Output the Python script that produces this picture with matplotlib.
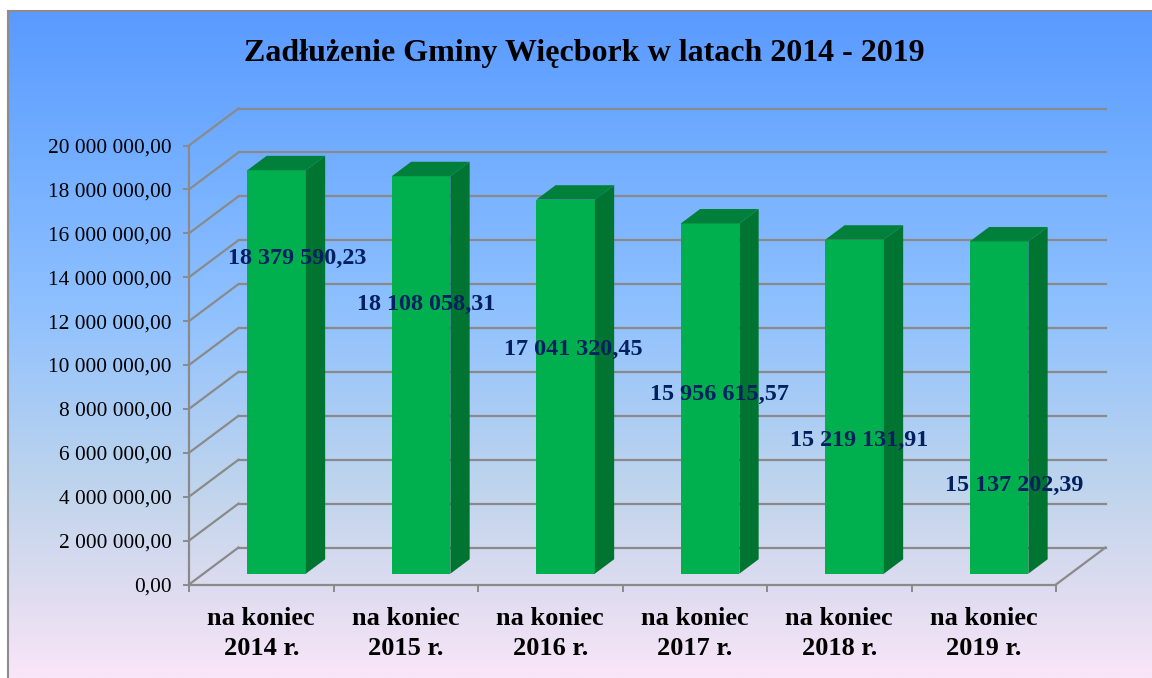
import numpy as np
import matplotlib
matplotlib.use("Agg")
import matplotlib.pyplot as plt
from matplotlib.patches import Polygon
from matplotlib.colors import LinearSegmentedColormap

categories = ["na koniec\n2014 r.", "na koniec\n2015 r.", "na koniec\n2016 r.",
              "na koniec\n2017 r.", "na koniec\n2018 r.", "na koniec\n2019 r."]
values = [18379590.23, 18108058.31, 17041320.45, 15956615.57, 15219131.91, 15137202.39]
value_labels = ["18 379 590,23", "18 108 058,31", "17 041 320,45",
                "15 956 615,57", "15 219 131,91", "15 137 202,39"]
y_ticks = [0, 2e6, 4e6, 6e6, 8e6, 10e6, 12e6, 14e6, 16e6, 18e6, 20e6]
y_tick_labels = ["0,00", "2 000 000,00", "4 000 000,00", "6 000 000,00", "8 000 000,00",
                 "10 000 000,00", "12 000 000,00", "14 000 000,00", "16 000 000,00",
                 "18 000 000,00", "20 000 000,00"]

# where the data labels were dragged to in the original, in pixels
label_px = [(297.5, 258.5), (426, 304.5), (573, 349.5), (720, 394.5), (859, 440.5), (1014, 485.5)]

W, H = 1152, 678
GRID = "#8a8a8a"
DEPTH_X = 49.5 / 144.5
DEPTH_Y = 37 / 439 * 20e6
BAR_W = 0.405
D0, D1 = 0.31, 0.70


def depth(x, y, d):
    return x + d * DEPTH_X, y + d * DEPTH_Y


plt.rcParams["font.family"] = ["Liberation Serif", "DejaVu Serif"]
fig = plt.figure(figsize=(W / 100, H / 100), dpi=100, facecolor="white")

# panel with vertical gradient
bg = fig.add_axes([8 / W, 0, (W - 8) / W, (H - 11) / H])
stops = [(0.0, "#5a9aff"), (0.15, "#6aa8ff"), (0.45, "#8fc1ff"),
         (0.72, "#c0d5ec"), (0.87, "#dedcf0"), (1.0, "#f9e6f8")]
cmap = LinearSegmentedColormap.from_list("panel", stops)
bg.imshow(np.linspace(0, 1, 256).reshape(-1, 1), aspect="auto", cmap=cmap)
bg.set_xticks([])
bg.set_yticks([])
for name, sp in bg.spines.items():
    sp.set_color("#8c8c8c")
    sp.set_linewidth(1.5)
    sp.set_visible(name in ("left", "top"))

ax = fig.add_axes([189 / W, (H - 584.5) / H, 867 / W, 439 / H])
ax.patch.set_visible(False)
ax.set_xlim(0, len(categories))
ax.set_ylim(0, 20e6)

# walls and floor
for t in y_ticks:
    bx, by = depth(0, t, 1)
    ax.plot([0, bx], [t, by], color=GRID, lw=1.6, clip_on=False, zorder=1)
    ax.plot([bx, depth(6, t, 1)[0]], [by, by], color=GRID, lw=1.6, clip_on=False, zorder=1)
rx, ry = depth(6, 0, 1)
ax.plot([6, rx], [0, ry], color=GRID, lw=1.6, clip_on=False, zorder=1)

# bars
for i, v in enumerate(values):
    cx = i + 0.5
    fx0, base = depth(cx - BAR_W / 2, 0, D0)
    base = base - 0.03e6
    fx1 = fx0 + BAR_W
    top = base + v
    ax.bar(fx0, v, width=BAR_W, bottom=base, align="edge", color="#00b04f", zorder=3, clip_on=False)
    dx = (D1 - D0) * DEPTH_X
    dy = (D1 - D0) * DEPTH_Y
    ax.add_patch(Polygon([(fx1, base), (fx1 + dx, base + dy), (fx1 + dx, top + dy), (fx1, top)],
                         closed=True, color="#007532", lw=0, zorder=3, clip_on=False))
    ax.add_patch(Polygon([(fx0, top), (fx1, top), (fx1 + dx, top + dy), (fx0 + dx, top + dy)],
                         closed=True, color="#00803a", lw=0, zorder=3, clip_on=False))

for sp in ("top", "right"):
    ax.spines[sp].set_visible(False)
for sp in ("left", "bottom"):
    ax.spines[sp].set_color(GRID)
    ax.spines[sp].set_linewidth(1.6)
    ax.spines[sp].set_zorder(2)

ax.set_yticks(y_ticks)
ax.set_yticklabels(y_tick_labels, fontsize=15.4)
ax.tick_params(axis="y", length=4.5, width=1.4, color=GRID, pad=8, labelcolor="black")
ax.set_xticks(range(len(categories) + 1))
ax.set_xticklabels([])
ax.set_xticks(np.arange(len(categories)) + 0.5, minor=True)
ax.set_xticklabels(categories, minor=True, fontsize=19, fontweight="bold", linespacing=1.4)
ax.tick_params(axis="x", which="major", length=5, width=1.4, color=GRID)
ax.tick_params(axis="x", which="minor", length=0, pad=16)

for (px, py), txt in zip(label_px, value_labels):
    fig.text(px / W, 1 - py / H, txt, ha="center", va="center", fontsize=17.4,
             fontweight="bold", color="#002060", zorder=5)

fig.text(584.5 / W, 1 - 53 / H, "Zadłużenie Gminy Więcbork w latach 2014 - 2019", ha="center", va="center",
         fontsize=23, fontweight="bold", color="black")

fig.savefig("out.png", dpi=100)
